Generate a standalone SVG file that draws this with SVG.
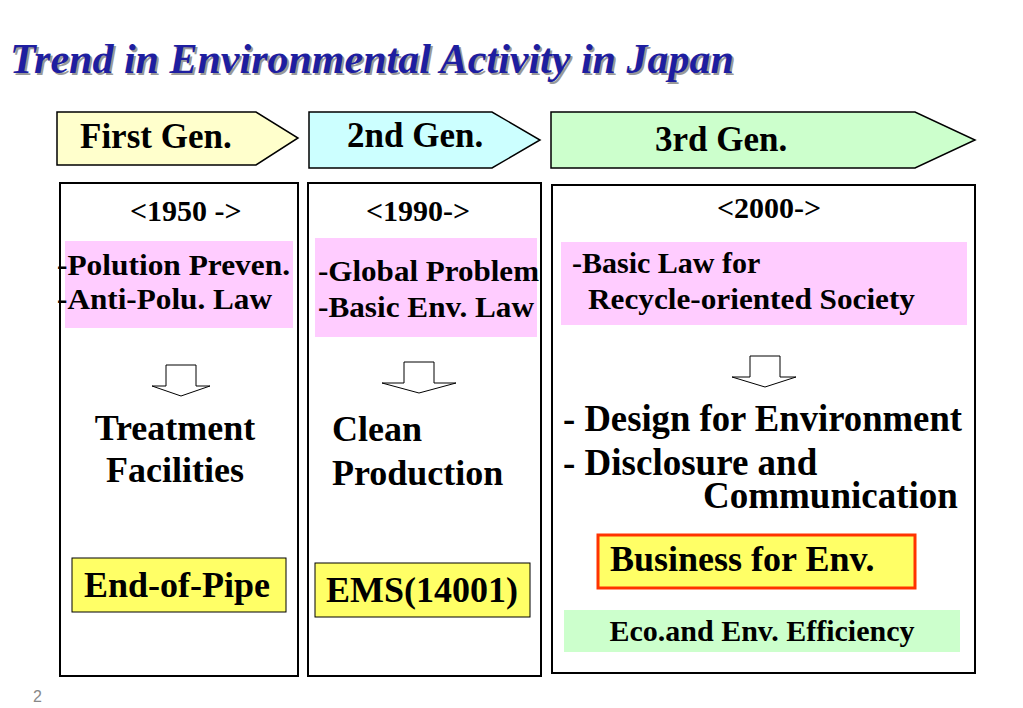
<svg xmlns="http://www.w3.org/2000/svg" width="1023" height="708" viewBox="0 0 1023 708">
<style>
.t{font-family:"Liberation Serif",serif;font-weight:bold;fill:#000}
.bx{fill:#fff;stroke:#000;stroke-width:2}
.da{fill:#fff;stroke:#000;stroke-width:1}
</style>
<rect width="1023" height="708" fill="#fff"/>
<text x="12" y="75" font-family="'Liberation Serif',serif" font-weight="bold" font-style="italic" font-size="42" fill="#999">Trend in Environmental Activity in Japan</text>
<text x="10" y="73" font-family="'Liberation Serif',serif" font-weight="bold" font-style="italic" font-size="42" fill="#1e1ea0">Trend in Environmental Activity in Japan</text>
<g id="gen1"><polygon points="57,112 256,112 298,138 256,165 57,165" fill="#ffffcc" stroke="#000" stroke-width="1.5"/><text class="t" x="80" y="148" font-size="35">First Gen.</text></g>
<g id="gen2"><polygon points="309,112 492,112 540,140 492,168 309,168" fill="#ccffff" stroke="#000" stroke-width="1.5"/><text class="t" x="347" y="147" font-size="35">2nd Gen.</text></g>
<g id="gen3"><polygon points="551,112 915,112 975,140 915,168 551,168" fill="#ccffcc" stroke="#000" stroke-width="1.5"/><text class="t" x="655" y="151" font-size="35">3rd Gen.</text></g>
<g id="col1">
<rect class="bx" x="60" y="183" width="238" height="493"/>
<text class="t" x="130" y="221" font-size="30">&lt;1950 -&gt;</text>
<rect x="65" y="241" width="228" height="87" fill="#ffccff"/>
<text class="t" x="57" y="275" font-size="30" textLength="233" lengthAdjust="spacingAndGlyphs">-Polution Preven.</text>
<text class="t" x="57" y="309" font-size="30" textLength="215" lengthAdjust="spacingAndGlyphs">-Anti-Polu. Law</text>
<path class="da" d="M166,365 H196 V386 H210 L181,396 L152,386 H166 Z"/>
<text class="t" x="175" y="440" font-size="36" text-anchor="middle">Treatment</text>
<text class="t" x="175" y="482" font-size="36" text-anchor="middle">Facilities</text>
<rect x="72" y="558" width="214" height="54" fill="#ffff66" stroke="#000" stroke-width="1"/>
<text class="t" x="177" y="597" font-size="36" text-anchor="middle">End-of-Pipe</text>
</g>
<g id="col2">
<rect class="bx" x="308" y="183" width="233" height="493"/>
<text class="t" x="366" y="221" font-size="30">&lt;1990-&gt;</text>
<rect x="315" y="238" width="222" height="99" fill="#ffccff"/>
<text class="t" x="318" y="281" font-size="30" textLength="221" lengthAdjust="spacingAndGlyphs">-Global Problem</text>
<text class="t" x="318" y="317" font-size="30" textLength="216" lengthAdjust="spacingAndGlyphs">-Basic Env. Law</text>
<path class="da" d="M404,362 H434 V383 H456 L419,393 L382,383 H404 Z"/>
<text class="t" x="332" y="441" font-size="36">Clean</text>
<text class="t" x="332" y="485" font-size="36">Production</text>
<rect x="315" y="563" width="215" height="54" fill="#ffff66" stroke="#000" stroke-width="1"/>
<text class="t" x="422" y="602" font-size="36" text-anchor="middle">EMS(14001)</text>
</g>
<g id="col3">
<rect class="bx" x="552" y="185" width="423" height="488"/>
<text class="t" x="717" y="218" font-size="30">&lt;2000-&gt;</text>
<rect x="561" y="242" width="406" height="83" fill="#ffccff"/>
<text class="t" x="572" y="273" font-size="30">-Basic Law for</text>
<text class="t" x="588" y="309" font-size="30" textLength="327" lengthAdjust="spacingAndGlyphs">Recycle-oriented Society</text>
<path class="da" d="M750,356 H780 V377 H796 L765,387 L732,377 H750 Z"/>
<text class="t" x="563" y="431" font-size="37" textLength="399" lengthAdjust="spacingAndGlyphs">- Design for Environment</text>
<text class="t" x="563" y="475" font-size="37">- Disclosure and</text>
<text class="t" x="703" y="508" font-size="37">Communication</text>
<rect x="598" y="535" width="317" height="53" fill="#ffff66" stroke="#ff3300" stroke-width="3"/>
<text class="t" x="610" y="571" font-size="36">Business for Env.</text>
<rect x="564" y="610" width="396" height="42" fill="#ccffcc"/>
<text class="t" x="762" y="641" font-size="30" text-anchor="middle">Eco.and Env. Efficiency</text>
</g>
<g id="connectors"/>
<text x="33" y="702" font-family="'Liberation Sans',sans-serif" font-size="16" fill="#888">2</text>
</svg>
